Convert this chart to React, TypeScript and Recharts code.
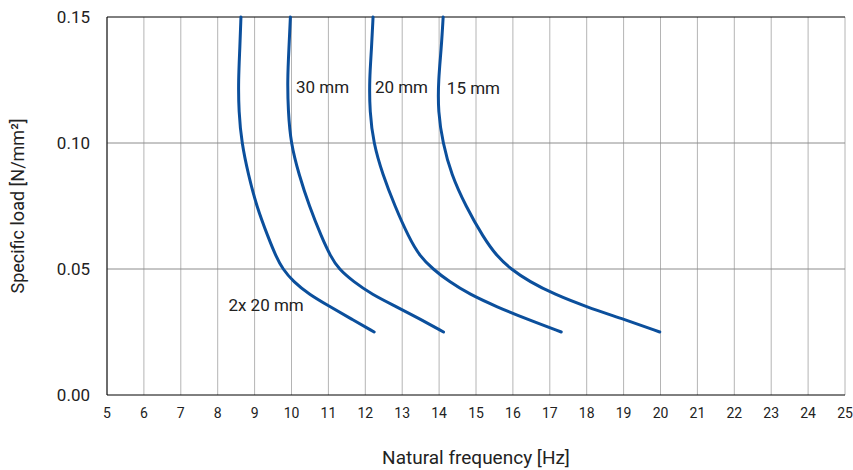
import {
  LineChart,
  Line,
  XAxis,
  YAxis,
  CartesianGrid,
  ReferenceLine,
  ReferenceDot,
} from "recharts";

// specific load levels shared by all curves (N/mm²)
const loads = [0.15, 0.1375, 0.125, 0.1125, 0.1, 0.0875, 0.075, 0.0625, 0.055, 0.05, 0.045, 0.04, 0.035, 0.03, 0.025];

const freq2x20 = [8.63, 8.6, 8.56, 8.57, 8.65, 8.83, 9.05, 9.37, 9.58, 9.76, 10.05, 10.47, 11.05, 11.64, 12.24];
const freq30 = [9.97, 9.93, 9.89, 9.91, 9.98, 10.2, 10.48, 10.82, 11.06, 11.28, 11.68, 12.17, 12.85, 13.5, 14.12];
const freq20 = [12.21, 12.17, 12.11, 12.12, 12.22, 12.47, 12.8, 13.18, 13.48, 13.83, 14.27, 14.82, 15.56, 16.4, 17.31];
const freq15 = [14.11, 14.06, 13.98, 13.97, 14.1, 14.33, 14.72, 15.2, 15.57, 15.94, 16.45, 17.12, 17.99, 19.02, 19.98];

const xTicks = [5, 6, 7, 8, 9, 10, 11, 12, 13, 14, 15, 16, 17, 18, 19, 20, 21, 22, 23, 24, 25];
const yTicks = [0, 0.05, 0.1, 0.15];

const curveLabels = [
  { name: "30 mm", f: 10.12, load: 0.1222 },
  { name: "20 mm", f: 12.26, load: 0.1222 },
  { name: "15 mm", f: 14.21, load: 0.1218 },
  { name: "2x 20 mm", f: 8.29, load: 0.0357 },
];

const toSeries = (fs: number[]) => fs.map((f, i) => ({ f, load: loads[i] }));

const series = [freq2x20, freq30, freq20, freq15].map(toSeries);

const FONT = "Roboto, 'DejaVu Sans', sans-serif";
const BLUE = "#0b4f9c";
const TEXT = "#222";

export default function App() {
  return (
    <div style={{ position: "absolute", left: 0, top: 0 }}>
      <LineChart
        width={853}
        height={470}
        margin={{ top: 17, right: 8, bottom: 0, left: 0 }}
      >
        <CartesianGrid horizontal={false} stroke="#b4b4b4" />
        {[0.05, 0.1].map((v) => (
          <ReferenceLine key={v} y={v} stroke="#8c8c8c" />
        ))}
        <XAxis
          type="number"
          dataKey="f"
          domain={[5, 25]}
          ticks={xTicks}
          interval={0}
          height={75}
          tickLine={false}
          tickMargin={7}
          axisLine={{ stroke: "#000" }}
          tick={{ fill: TEXT, fontSize: 14, fontFamily: FONT }}
          label={{
            value: "Natural frequency [Hz]",
            position: "insideBottom",
            offset: 6,
            fill: TEXT,
            fontSize: 19,
            fontFamily: FONT,
          }}
        />
        <YAxis
          type="number"
          dataKey="load"
          domain={[0, 0.15]}
          ticks={yTicks}
          width={107}
          tickLine={false}
          tickMargin={11}
          axisLine={{ stroke: "#000" }}
          tickFormatter={(v: number) => v.toFixed(2)}
          tick={{ fill: TEXT, fontSize: 17, fontFamily: FONT }}
          label={{
            value: "Specific load [N/mm²]",
            angle: -90,
            position: "center",
            dx: -36,
            fill: TEXT,
            fontSize: 18,
            fontFamily: FONT,
          }}
        />
        <ReferenceLine y={0.15} stroke="#000" />
        {series.map((d, i) => (
          <Line
            key={i}
            data={d}
            dataKey="load"
            type="basis"
            stroke={BLUE}
            strokeWidth={3}
            strokeLinecap="round"
            dot={false}
            isAnimationActive={false}
          />
        ))}
        {curveLabels.map((l) => (
          <ReferenceDot
            key={l.name}
            x={l.f}
            y={l.load}
            r={0}
            stroke="none"
            fill="none"
            label={{
              value: l.name,
              position: "right",
              offset: 0,
              fill: TEXT,
              fontSize: 17,
              fontFamily: FONT,
            }}
          />
        ))}
      </LineChart>
    </div>
  );
}
